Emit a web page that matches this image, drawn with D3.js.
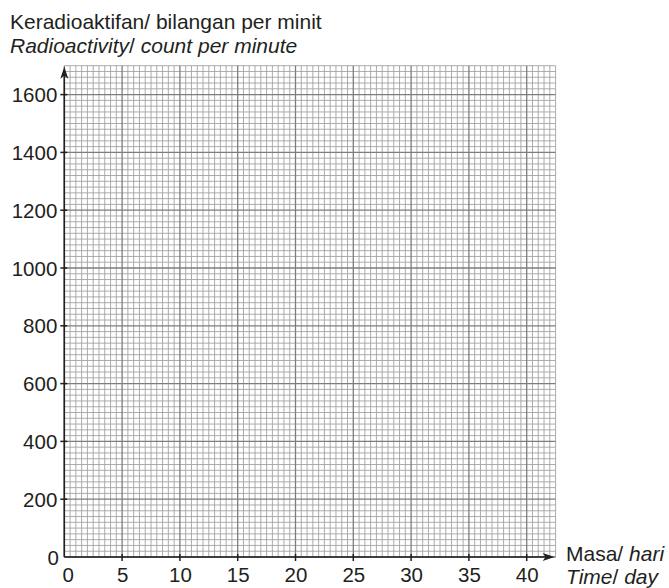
<!DOCTYPE html>
<html>
<head>
<meta charset="utf-8">
<script src="https://cdn.jsdelivr.net/npm/d3@7"></script>
<style>
  html, body { margin: 0; padding: 0; background: #fff; }
  svg { display: block; }
</style>
</head>
<body>
<div id="chart"></div>
<script>
// axis ticks (the paper is blank: no series plotted)
const xTickValues = [0, 5, 10, 15, 20, 25, 30, 35, 40];
const yTickValues = [0, 200, 400, 600, 800, 1000, 1200, 1400, 1600];
const xDomain = [0, 42.5];
const yDomain = [0, 1700];
const xMinorStep = 0.5;
const yMinorStep = 20;

const yTitleLines = [
  [{ t: "Keradioaktifan/ bilangan per minit", i: false }],
  [{ t: "Radioactivity", i: true }, { t: "/", i: false }, { t: " count per minute", i: true }],
];
const xTitleLines = [
  [{ t: "Masa/ ", i: false }, { t: "hari", i: true }],
  [{ t: "Time", i: true }, { t: "/", i: false }, { t: " day", i: true }],
];

const W = 669, H = 588;
const left = 64.3, bottom = 557, plot = 491.3;
const ink = "#231f20";
const font = "'Liberation Sans', Arial, sans-serif";

const svg = d3.select("#chart").append("svg")
  .attr("width", W).attr("height", H)
  .style("font-family", font);

const x = d3.scaleLinear().domain(xDomain).range([left, left + plot]);
const y = d3.scaleLinear().domain(yDomain).range([bottom, bottom - plot]);

// grid
const xMinor = d3.range(0, xDomain[1] + 1e-9, xMinorStep);
const yMinor = d3.range(0, yDomain[1] + 1e-9, yMinorStep);
const isMajorX = (v) => Math.abs(v / 5 - Math.round(v / 5)) < 1e-6;
const isMajorY = (v) => Math.abs(v / 200 - Math.round(v / 200)) < 1e-6;

const grid = svg.append("g");
grid.selectAll(".vx").data(xMinor.filter((v) => !isMajorX(v))).join("line")
  .attr("x1", (d) => x(d)).attr("x2", (d) => x(d))
  .attr("y1", y(yDomain[0])).attr("y2", y(yDomain[1]))
  .attr("stroke", "#a3a3a3").attr("stroke-width", 0.9);
grid.selectAll(".hy").data(yMinor.filter((v) => !isMajorY(v))).join("line")
  .attr("y1", (d) => y(d)).attr("y2", (d) => y(d))
  .attr("x1", x(xDomain[0])).attr("x2", x(xDomain[1]))
  .attr("stroke", "#a3a3a3").attr("stroke-width", 0.9);
grid.selectAll(".vX").data(xMinor.filter(isMajorX)).join("line")
  .attr("x1", (d) => x(d)).attr("x2", (d) => x(d))
  .attr("y1", y(yDomain[0])).attr("y2", y(yDomain[1]))
  .attr("stroke", "#7d7d7d").attr("stroke-width", 1.3);
grid.selectAll(".hY").data(yMinor.filter(isMajorY)).join("line")
  .attr("y1", (d) => y(d)).attr("y2", (d) => y(d))
  .attr("x1", x(xDomain[0])).attr("x2", x(xDomain[1]))
  .attr("stroke", "#7d7d7d").attr("stroke-width", 1.3);

// axes
const xAxis = d3.axisBottom(x).tickValues(xTickValues).tickFormat(d3.format("d"))
  .tickSize(0).tickPadding(10);
const yAxis = d3.axisLeft(y).tickValues(yTickValues).tickFormat(d3.format("d"))
  .tickSize(0).tickPadding(7);

const gx = svg.append("g").attr("transform", `translate(0,${bottom})`).call(xAxis);
const gy = svg.append("g").attr("transform", `translate(${left},0)`).call(yAxis);
[gx, gy].forEach((g) => {
  g.select(".domain").remove();
  g.selectAll("text").style("font-size", "20.5px").style("font-family", font).attr("fill", ink);
});
gx.selectAll("text").attr("dy", "0.71em")
  .attr("dx", (d) => (d === 0 ? 3.5 : 0));
gy.selectAll("text").attr("dy", "0.35em")
  .attr("dx", (d) => (d === 0 ? 1.5 : 0));

// tick marks crossing the axes
svg.append("g").selectAll("line").data(xTickValues.filter((d) => d > 0)).join("line")
  .attr("x1", (d) => x(d)).attr("x2", (d) => x(d))
  .attr("y1", bottom - 3).attr("y2", bottom + 4)
  .attr("stroke", ink).attr("stroke-width", 1.5);
svg.append("g").selectAll("line").data(yTickValues.filter((d) => d > 0)).join("line")
  .attr("y1", (d) => y(d)).attr("y2", (d) => y(d))
  .attr("x1", left - 4).attr("x2", left + 3)
  .attr("stroke", ink).attr("stroke-width", 1.5);

// axis lines with arrows
const axTop = y(yDomain[1]) + 1;
const axRight = x(xDomain[1]) - 1;
svg.append("line").attr("x1", left).attr("x2", left)
  .attr("y1", bottom).attr("y2", axTop + 8)
  .attr("stroke", ink).attr("stroke-width", 1.6);
svg.append("line").attr("x1", left).attr("x2", axRight - 8)
  .attr("y1", bottom).attr("y2", bottom)
  .attr("stroke", ink).attr("stroke-width", 1.6);
svg.append("path")
  .attr("d", `M${left},${axTop} L${left + 4},${axTop + 12} L${left},${axTop + 9} L${left - 4},${axTop + 12} Z`)
  .attr("fill", ink);
svg.append("path")
  .attr("d", `M${axRight},${bottom} L${axRight - 12},${bottom + 4} L${axRight - 9},${bottom} L${axRight - 12},${bottom - 4} Z`)
  .attr("fill", ink);

// titles
function writeLines(lines, x0, baselines) {
  lines.forEach((parts, k) => {
    const t = svg.append("text").attr("x", x0).attr("y", baselines[k])
      .attr("fill", ink).style("font-size", "21px");
    parts.forEach((p) => {
      t.append("tspan").text(p.t).style("font-style", p.i ? "italic" : "normal");
    });
  });
}
writeLines(yTitleLines, 10, [29, 53]);
writeLines(xTitleLines, 566, [561, 584]);
</script>
</body>
</html>
